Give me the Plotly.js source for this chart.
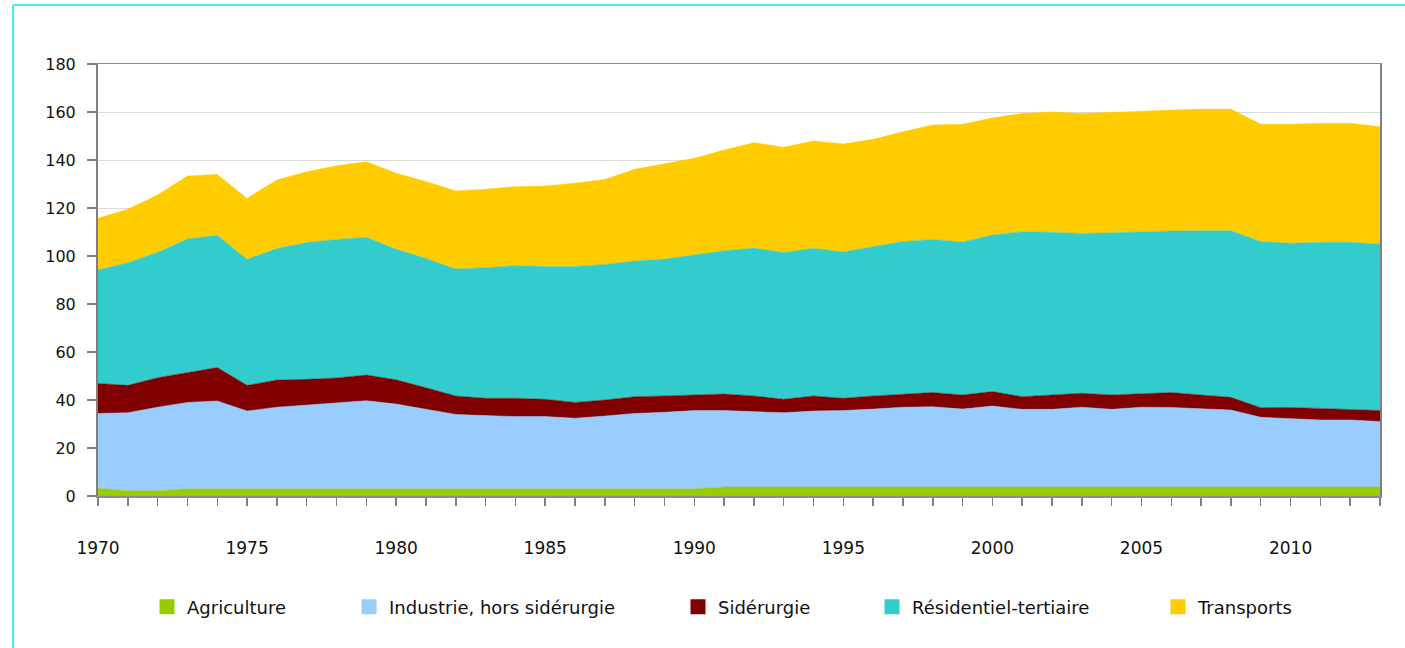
<!DOCTYPE html>
<html>
<head>
<meta charset="utf-8">
<script src="https://cdn.plot.ly/plotly-3.0.1.min.js"></script>
<style>
  html, body { margin: 0; padding: 0; background: #ffffff; }
  #chart { width: 1405px; height: 648px; }
</style>
</head>
<body>
<div id="chart"></div>
<script>
// Years
const years = [1970,1971,1972,1973,1974,1975,1976,1977,1978,1979,
               1980,1981,1982,1983,1984,1985,1986,1987,1988,1989,
               1990,1991,1992,1993,1994,1995,1996,1997,1998,1999,
               2000,2001,2002,2003,2004,2005,2006,2007,2008,2009,
               2010,2011,2012,2013];

// Series values
const agriculture = [3.2,2.2,2.2,3.0,3.0,3.0,3.0,3.0,3.0,3.0,
                     3.0,3.0,3.0,3.0,3.0,3.0,3.0,3.0,3.0,3.0,
                     3.0,3.8,3.8,3.8,3.8,3.8,3.8,3.8,3.8,3.8,
                     3.8,3.8,3.8,3.8,3.8,3.8,3.8,3.8,3.8,3.8,
                     3.8,3.8,3.8,3.8];
const industrie = [31.2,32.5,34.8,36.0,36.6,32.4,34.0,34.9,35.6,36.7,
                   35.3,33.1,31.0,30.5,30.1,30.1,29.4,30.3,31.4,31.9,
                   32.6,31.8,31.5,30.9,31.6,31.8,32.4,33.2,33.4,32.4,
                   33.7,32.3,32.3,33.2,32.3,33.2,33.1,32.7,32.0,29.0,
                   28.6,27.9,27.9,27.2];
const siderurgie = [12.5,11.4,12.3,12.4,13.9,10.7,11.3,10.7,10.6,10.7,
                    10.1,9.0,7.7,7.2,7.6,7.2,6.6,6.7,7.0,6.8,
                    6.5,6.9,6.4,5.6,6.3,5.1,5.5,5.5,5.9,5.9,
                    6.0,5.3,6.0,5.8,6.0,5.5,6.2,5.6,5.3,4.0,
                    4.5,4.8,4.5,4.6];
const residentiel = [47.3,51.1,52.2,55.7,55.1,52.5,54.8,57.0,57.7,57.4,
                     54.4,53.9,52.9,54.4,55.3,55.3,56.6,56.5,56.5,57.0,
                     58.3,59.7,61.6,61.2,61.5,61.0,62.2,63.5,63.8,63.7,
                     65.2,68.7,67.8,66.6,67.6,67.6,67.3,68.4,69.4,69.2,
                     68.4,69.2,69.5,69.4];
const transports = [21.5,22.3,23.9,26.2,25.4,25.4,28.6,29.5,30.7,31.5,
                    31.7,32.0,32.5,32.7,32.9,33.6,34.7,35.4,38.2,39.6,
                    40.3,42.0,43.9,43.8,44.7,45.0,44.7,45.8,47.7,49.1,
                    48.8,49.3,50.1,50.0,50.2,50.2,50.6,50.7,50.7,48.9,
                    49.6,49.6,49.6,48.9];

const seriesNames = ["Agriculture", "Industrie, hors sidérurgie", "Sidérurgie",
                     "Résidentiel-tertiaire", "Transports"];
const seriesColors = ["#99cc00", "#99ccff", "#800000", "#33cccc", "#ffcc00"];
const seriesValues = [agriculture, industrie, siderurgie, residentiel, transports];

const traces = [];
seriesValues.forEach((vals, i) => {
  traces.push({
    type: "scatter",
    mode: "lines",
    x: years,
    y: vals,
    stackgroup: "one",
    name: seriesNames[i],
    line: { color: seriesColors[i], width: 0.5 },
    fillcolor: seriesColors[i],
    showlegend: false,
    hoverinfo: "skip"
  });
});

// Legend-only entries (square markers), one legend each so they sit like the original
const legendIds = ["legend", "legend2", "legend3", "legend4", "legend5"];
seriesNames.forEach((nm, i) => {
  traces.push({
    type: "scatter",
    mode: "markers",
    x: [null],
    y: [null],
    name: nm,
    legend: legendIds[i],
    marker: { symbol: "square", size: 15, color: seriesColors[i] },
    showlegend: true,
    hoverinfo: "skip"
  });
});

// plot area in px: left 98, right 1380, top 64, bottom 496
const L = 98, R = 1380, T = 64, B = 496;
const PW = R - L, PH = B - T;
const px2x = p => (p - L) / PW;
const px2y = p => (B - p) / PH;

const legendFont = { family: "DejaVu Sans", size: 18, color: "#111111" };
const symbolCenters = [169, 371, 700, 894, 1180];
const layout = {
  width: 1405,
  height: 648,
  margin: { l: L, r: 1405 - R, t: T, b: 648 - B, pad: 0 },
  paper_bgcolor: "#ffffff",
  plot_bgcolor: "#ffffff",
  showlegend: true,
  hovermode: false,
  xaxis: {
    range: [1970, 2013],
    tickmode: "linear",
    tick0: 1970,
    dtick: 5,
    ticks: "outside",
    ticklen: 8,
    tickwidth: 1.5,
    tickcolor: "#808080",
    minor: { dtick: 1, ticks: "outside", ticklen: 8, tickwidth: 1.5, tickcolor: "#808080", showgrid: false },
    showgrid: false,
    zeroline: false,
    showline: true,
    linecolor: "#8c8c8c",
    linewidth: 1.5,
    mirror: true,
    ticklabelstandoff: 28,
    tickfont: { family: "DejaVu Sans", size: 17, color: "#111111" },
    fixedrange: true
  },
  yaxis: {
    range: [0, 180],
    tickmode: "linear",
    tick0: 0,
    dtick: 20,
    ticks: "outside",
    ticklen: 9,
    tickwidth: 1.5,
    tickcolor: "#808080",
    showgrid: true,
    gridcolor: "#d9d9d9",
    gridwidth: 1,
    zeroline: false,
    showline: true,
    linecolor: "#7f7f7f",
    linewidth: 2,
    mirror: true,
    ticklabelstandoff: 8,
    tickfont: { family: "DejaVu Sans", size: 16, color: "#111111" },
    fixedrange: true
  },
  shapes: [
    { type: "line", xref: "paper", yref: "paper",
      x0: px2x(13), x1: px2x(13), y0: px2y(700), y1: px2y(5),
      line: { color: "#3ef2f2", width: 2 } },
    { type: "line", xref: "paper", yref: "paper",
      x0: px2x(13), x1: px2x(1500), y0: px2y(5), y1: px2y(5),
      line: { color: "#3ef2f2", width: 2 } }
  ]
};

legendIds.forEach((id, i) => {
  layout[id] = {
    orientation: "h",
    x: px2x(symbolCenters[i] - 22),
    xanchor: "left",
    y: px2y(607),
    yanchor: "middle",
    font: legendFont,
    bgcolor: "rgba(0,0,0,0)",
    borderwidth: 0,
    itemclick: false,
    itemdoubleclick: false
  };
});

Plotly.newPlot("chart", traces, layout, { staticPlot: true, displayModeBar: false });
</script>
</body>
</html>
